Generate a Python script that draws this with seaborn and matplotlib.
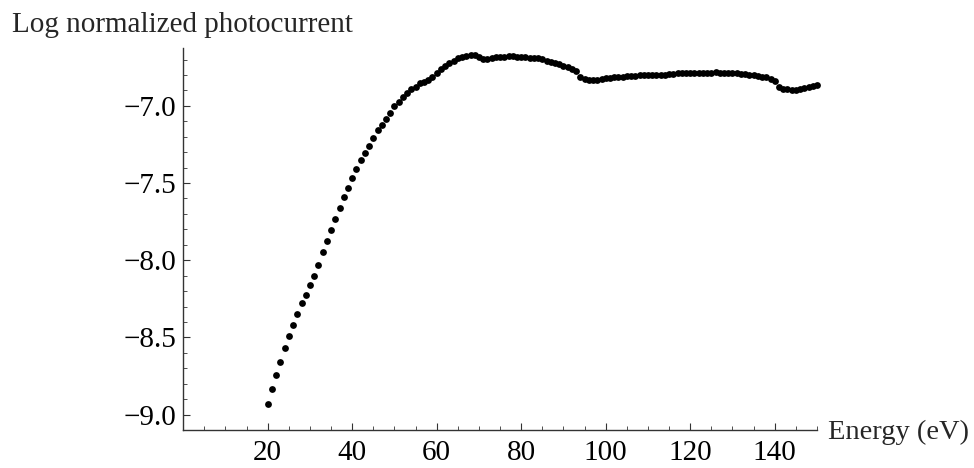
import numpy as np
import pandas as pd
import matplotlib
matplotlib.use("Agg")
import matplotlib.pyplot as plt
from matplotlib.ticker import MultipleLocator
import seaborn as sns

energy = list(range(20, 151))
log_photocurrent = [
    -8.930, -8.834, -8.746, -8.657, -8.569, -8.489, -8.418, -8.347, -8.276, -8.224,
    -8.162, -8.099, -8.028, -7.948, -7.877, -7.806, -7.735, -7.664, -7.590, -7.530,
    -7.465, -7.410, -7.349, -7.306, -7.263, -7.211, -7.159, -7.127, -7.082, -7.047,
    -7.004, -6.978, -6.944, -6.914, -6.892, -6.875, -6.855, -6.846, -6.832, -6.810,
    -6.789, -6.763, -6.741, -6.724, -6.707, -6.692, -6.681, -6.675, -6.672, -6.673,
    -6.685, -6.696, -6.695, -6.690, -6.686, -6.684, -6.681, -6.678, -6.677, -6.681,
    -6.685, -6.686, -6.688, -6.690, -6.692, -6.698, -6.707, -6.715, -6.722, -6.730,
    -6.742, -6.750, -6.762, -6.776, -6.810, -6.828, -6.835, -6.832, -6.830, -6.826,
    -6.822, -6.820, -6.816, -6.812, -6.810, -6.808, -6.806, -6.804, -6.803, -6.802,
    -6.800, -6.800, -6.799, -6.798, -6.797, -6.795, -6.792, -6.790, -6.789, -6.788,
    -6.788, -6.788, -6.787, -6.787, -6.785, -6.784, -6.783, -6.784, -6.785, -6.786,
    -6.788, -6.790, -6.793, -6.796, -6.798, -6.800, -6.805, -6.810, -6.816, -6.826,
    -6.840, -6.880, -6.893, -6.890, -6.900, -6.897, -6.890, -6.883, -6.876, -6.872,
    -6.866,
]
x_ticks = [20, 40, 60, 80, 100, 120, 140]
y_ticks = [-9.0, -8.5, -8.0, -7.5, -7.0]
y_tick_labels = ["\u22129.0", "\u22128.5", "\u22128.0", "\u22127.5", "\u22127.0"]
x_label = "Energy (eV)"
y_label = "Log normalized photocurrent"

sns.set_style("ticks")
plt.rcParams["font.family"] = ["Liberation Serif", "DejaVu Serif"]

df = pd.DataFrame({"energy": energy, "value": log_photocurrent})

fig = plt.figure(figsize=(9.74, 4.68), dpi=100)
ax = fig.add_axes([183.2 / 974, 1 - 430 / 468, (817 - 183.2) / 974, (430 - 48) / 468])

sns.scatterplot(data=df, x="energy", y="value", ax=ax, color="black",
                s=24, linewidth=0, clip_on=False, legend=False)

ax.set_xlim(0, 150)
ax.set_ylim(-9.1, -6.625)
ax.spines["left"].set_position(("data", 0))
ax.spines["bottom"].set_position(("data", -9.1))
ax.spines["top"].set_visible(False)
ax.spines["right"].set_visible(False)
axis_color = "#333333"
for s in ("left", "bottom"):
    ax.spines[s].set_color(axis_color)
    ax.spines[s].set_linewidth(1.0)

ax.set_xticks(x_ticks)
ax.set_xticklabels([str(t) for t in x_ticks])
ax.set_yticks(y_ticks)
ax.set_yticklabels(y_tick_labels)
ax.xaxis.set_minor_locator(MultipleLocator(5))
ax.yaxis.set_minor_locator(MultipleLocator(0.1))
ax.tick_params(axis="both", which="major", direction="in", length=5, width=0.8,
               color=axis_color, labelsize=21, labelcolor="black")
ax.tick_params(axis="both", which="minor", direction="in", length=3, width=0.6,
               color=axis_color)
ax.tick_params(axis="x", which="major", pad=7)
ax.tick_params(axis="y", which="major", pad=5)
ax.set_xlabel("")
ax.set_ylabel("")

fig.text(12 / 974, 1 - 25 / 468, y_label, fontsize=21, ha="left", va="center")
fig.text(828 / 974, 1 - 432 / 468, x_label, fontsize=20.5, ha="left", va="center")

fig.savefig("out.png", dpi=100)
